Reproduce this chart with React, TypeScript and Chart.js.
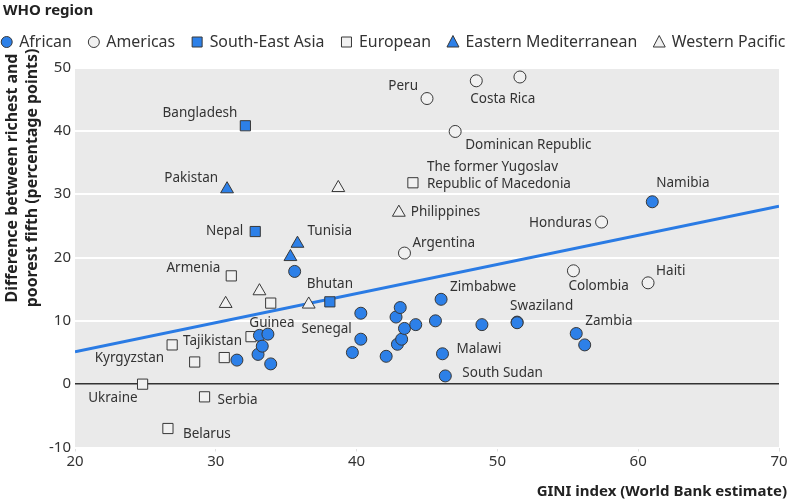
import React, { useEffect, useRef } from 'react';
import { Chart, registerables } from 'chart.js';

Chart.register(...registerables);

const FONT = '"Noto Sans", "DejaVu Sans", sans-serif';

// ---- Data (GINI index vs difference between richest and poorest fifth) ----
const africanGini = [31.5, 33.0, 33.1, 33.3, 33.7, 33.9, 35.6, 39.7, 40.3, 40.3, 42.1, 42.8, 43.1, 42.9, 43.2, 43.4, 44.2, 45.6, 46.0, 46.1, 46.3, 48.9, 51.4, 51.4, 55.6, 56.2, 61.0];
const africanDiff = [3.8, 4.7, 7.7, 6.0, 7.9, 3.2, 17.8, 5.0, 11.2, 7.1, 4.4, 10.6, 12.1, 6.3, 7.1, 8.8, 9.4, 10.0, 13.4, 4.8, 1.3, 9.4, 9.8, 9.7, 8.0, 6.2, 28.8];
const africanNames = ['', '', '', '', 'Guinea', '', '', '', '', 'Senegal', '', '', '', '', '', '', '', '', 'Zimbabwe', 'Malawi', 'South Sudan', '', 'Swaziland', '', 'Zambia', '', 'Namibia'];

const americasGini = [45.0, 48.5, 51.6, 47.0, 43.4, 57.4, 55.4, 60.7];
const americasDiff = [45.1, 47.9, 48.5, 39.9, 20.7, 25.6, 17.9, 16.0];
const americasNames = ['Peru', 'Costa Rica', '', 'Dominican Republic', 'Argentina', 'Honduras', 'Colombia', 'Haiti'];

const seAsiaGini = [32.1, 32.8, 38.1];
const seAsiaDiff = [40.8, 24.1, 13.0];
const seAsiaNames = ['Bangladesh', 'Nepal', 'Bhutan'];

const europeanGini = [44.0, 31.1, 33.9, 32.5, 26.9, 28.5, 30.6, 24.8, 29.2, 26.6];
const europeanDiff = [31.8, 17.1, 12.8, 7.5, 6.2, 3.5, 4.2, 0.0, -2.0, -7.0];
const europeanNames = ['The former Yugoslav Republic of Macedonia', 'Armenia', '', 'Tajikistan', 'Kyrgyzstan', '', '', 'Ukraine', 'Serbia', 'Belarus'];

const eastMedGini = [30.8, 35.8, 35.3];
const eastMedDiff = [30.8, 22.2, 20.1];
const eastMedNames = ['Pakistan', 'Tunisia', ''];

const westPacGini = [38.7, 43.0, 33.1, 30.7, 36.6];
const westPacDiff = [31.0, 27.1, 14.7, 12.7, 12.6];
const westPacNames = ['', 'Philippines', '', '', ''];

const regressionGini = [20, 70];
const regressionDiff = [5.1, 28.1];

const xMin = 20, xMax = 70, xStep = 10;
const yMin = -10, yMax = 50, yStep = 10;

const legendTitle = 'WHO region';
const xTitle = 'GINI index (World Bank estimate)';
const yTitleLines = ['Difference between richest and', 'poorest fifth (percentage points)'];

// ---- Styles ----
const BLUE = '#2d80e8';
const WHITE = '#f1f1f1';
const EDGE = '#383838';
const TEXT = '#333333';
const BG = '#eaeaea';

type Region = { label: string; gini: number[]; diff: number[]; names: string[]; style: string; fill: string };
const regions: Region[] = [
  { label: 'African', gini: africanGini, diff: africanDiff, names: africanNames, style: 'circle', fill: BLUE },
  { label: 'Americas', gini: americasGini, diff: americasDiff, names: americasNames, style: 'circle', fill: WHITE },
  { label: 'South-East Asia', gini: seAsiaGini, diff: seAsiaDiff, names: seAsiaNames, style: 'rect', fill: BLUE },
  { label: 'European', gini: europeanGini, diff: europeanDiff, names: europeanNames, style: 'rect', fill: WHITE },
  { label: 'Eastern Mediterranean', gini: eastMedGini, diff: eastMedDiff, names: eastMedNames, style: 'triangle', fill: BLUE },
  { label: 'Western Pacific', gini: westPacGini, diff: westPacDiff, names: westPacNames, style: 'triangle', fill: WHITE },
];

const radiusFor: Record<string, number> = { circle: 6, rect: 7.2, triangle: 7.4 };

// label placement relative to the point (pixels)
const labelPlacement: Record<string, { dx: number; dy: number; align: CanvasTextAlign; lines?: string[] }> = {
  Bangladesh: { dx: -8, dy: -13, align: 'right' },
  Pakistan: { dx: -9, dy: -11, align: 'right' },
  Nepal: { dx: -12, dy: 0, align: 'right' },
  Tunisia: { dx: 10, dy: -12, align: 'left' },
  Peru: { dx: -9, dy: -12, align: 'right' },
  'Costa Rica': { dx: -6, dy: 18, align: 'left' },
  'Dominican Republic': { dx: 10, dy: 14, align: 'left' },
  'The former Yugoslav Republic of Macedonia': { dx: 14, dy: -16, align: 'left', lines: ['The former Yugoslav', 'Republic of Macedonia'] },
  Philippines: { dx: 12, dy: 0, align: 'left' },
  Namibia: { dx: 4, dy: -19, align: 'left' },
  Honduras: { dx: -10, dy: 1, align: 'right' },
  Argentina: { dx: 8, dy: -10, align: 'left' },
  Colombia: { dx: -5, dy: 15, align: 'left' },
  Haiti: { dx: 8, dy: -12, align: 'left' },
  Zimbabwe: { dx: 9, dy: -12, align: 'left' },
  Swaziland: { dx: -7, dy: -16, align: 'left' },
  Zambia: { dx: 9, dy: -12, align: 'left' },
  Malawi: { dx: 14, dy: -5, align: 'left' },
  'South Sudan': { dx: 17, dy: -3, align: 'left' },
  Bhutan: { dx: 0, dy: -18, align: 'center' },
  Senegal: { dx: -9, dy: -10, align: 'right' },
  Guinea: { dx: 4, dy: -11, align: 'center' },
  Armenia: { dx: -11, dy: -8, align: 'right' },
  Tajikistan: { dx: -9, dy: 4, align: 'right' },
  Kyrgyzstan: { dx: -8, dy: 13, align: 'right' },
  Ukraine: { dx: -5, dy: 14, align: 'right' },
  Serbia: { dx: 13, dy: 3, align: 'left' },
  Belarus: { dx: 15, dy: 6, align: 'left' },
};

function drawMarker(ctx: CanvasRenderingContext2D, style: string, x: number, y: number, fill: string) {
  ctx.save();
  ctx.fillStyle = fill;
  ctx.strokeStyle = EDGE;
  ctx.lineWidth = 1;
  ctx.beginPath();
  if (style === 'circle') {
    ctx.arc(x, y, 5.5, 0, Math.PI * 2);
  } else if (style === 'rect') {
    ctx.rect(x - 5, y - 5, 10, 10);
  } else {
    ctx.moveTo(x, y - 6.5);
    ctx.lineTo(x + 6, y + 5);
    ctx.lineTo(x - 6, y + 5);
    ctx.closePath();
  }
  ctx.fill();
  ctx.stroke();
  ctx.restore();
}

const backgroundPlugin = {
  id: 'plotBackground',
  beforeDraw(chart: any) {
    const { ctx, chartArea } = chart;
    ctx.save();
    ctx.fillStyle = BG;
    ctx.fillRect(chartArea.left, chartArea.top, chartArea.right - chartArea.left, chartArea.bottom - chartArea.top);
    ctx.restore();
  },
};

const pointLabelsPlugin = {
  id: 'pointLabels',
  afterDatasetsDraw(chart: any) {
    const { ctx } = chart;
    ctx.save();
    ctx.font = `13.5px ${FONT}`;
    ctx.fillStyle = TEXT;
    ctx.textBaseline = 'middle';
    regions.forEach((r, di) => {
      const meta = chart.getDatasetMeta(di);
      r.names.forEach((name, i) => {
        if (!name) return;
        const p = labelPlacement[name];
        const el = meta.data[i];
        if (!p || !el) return;
        ctx.textAlign = p.align;
        const lines = p.lines || [name];
        lines.forEach((ln, li) => {
          ctx.fillText(ln, el.x + p.dx, el.y + p.dy + li * 17);
        });
      });
    });
    ctx.restore();
  },
};

const decorPlugin = {
  id: 'decor',
  afterDraw(chart: any) {
    const { ctx } = chart;
    ctx.save();
    // legend title
    ctx.fillStyle = '#222';
    ctx.textBaseline = 'middle';
    ctx.textAlign = 'left';
    ctx.font = `bold 15px ${FONT}`;
    ctx.fillText(legendTitle, 3, 11);
    // legend items
    ctx.font = `15.9px ${FONT}`;
    let x = 6.7;
    const y = 42;
    regions.forEach((r) => {
      drawMarker(ctx, r.style, x, y, r.fill);
      ctx.fillStyle = TEXT;
      ctx.fillText(r.label, x + 12.5, y);
      const w = ctx.measureText(r.label).width;
      x = x + 12.5 + w + 22;
    });
    // x axis title
    ctx.font = `bold 15px ${FONT}`;
    ctx.fillStyle = '#222';
    ctx.textAlign = 'right';
    ctx.fillText(xTitle, 787, 492);
    // y axis title
    ctx.font = `bold 15.9px ${FONT}`;
    yTitleLines.forEach((ln, i) => {
      ctx.save();
      ctx.translate(12 + i * 20, 178);
      ctx.rotate(-Math.PI / 2);
      ctx.textAlign = 'center';
      ctx.fillText(ln, 0, 0);
      ctx.restore();
    });
    ctx.restore();
  },
};

export default function App() {
  const ref = useRef<HTMLCanvasElement>(null);
  useEffect(() => {
    const canvas = ref.current;
    if (!canvas) return;
    const datasets: any[] = regions.map((r) => ({
      type: 'scatter',
      label: r.label,
      data: r.gini.map((g, i) => ({ x: g, y: r.diff[i] })),
      pointStyle: r.style,
      pointRadius: radiusFor[r.style],
      pointBackgroundColor: r.fill,
      pointBorderColor: EDGE,
      pointBorderWidth: 1,
      order: 1,
    }));
    datasets.push({
      type: 'line',
      label: 'Fit',
      data: regressionGini.map((g, i) => ({ x: g, y: regressionDiff[i] })),
      borderColor: '#2a7be4',
      borderWidth: 3,
      pointRadius: 0,
      fill: false,
      order: 10,
    });

    const tickFont = { family: FONT, size: 15 };
    const chart = new Chart(canvas, {
      type: 'scatter',
      data: { datasets },
      options: {
        responsive: false,
        animation: false,
        devicePixelRatio: 1,
        layout: { padding: { top: 67.5, right: 11, left: 0, bottom: 0 } },
        plugins: { legend: { display: false }, tooltip: { enabled: false } },
        scales: {
          x: {
            type: 'linear',
            min: xMin,
            max: xMax,
            ticks: { stepSize: xStep, font: tickFont, color: TEXT, padding: 1 },
            grid: { drawOnChartArea: false, drawTicks: true, tickLength: 4, tickColor: '#e0e0e0' },
            border: { display: false },
            afterFit: (s: any) => { s.height = 55.5; },
          },
          y: {
            type: 'linear',
            min: yMin,
            max: yMax,
            ticks: { stepSize: yStep, font: tickFont, color: TEXT, padding: 4 },
            grid: {
              drawTicks: false,
              color: (c: any) => (c.tick && c.tick.value === 0 ? '#333333' : '#ffffff'),
              lineWidth: (c: any) => (c.tick && c.tick.value === 0 ? 1.5 : 2),
            },
            border: { display: false },
            afterFit: (s: any) => { s.width = 75; },
          },
        },
      } as any,
      plugins: [backgroundPlugin, pointLabelsPlugin, decorPlugin],
    });
    return () => chart.destroy();
  }, []);
  return (
    <div style={{ position: 'fixed', left: 0, top: 0, width: 790, height: 503, background: '#fff' }}>
      <canvas ref={ref} width={790} height={503} style={{ display: 'block', width: 790, height: 503 }} />
    </div>
  );
}
